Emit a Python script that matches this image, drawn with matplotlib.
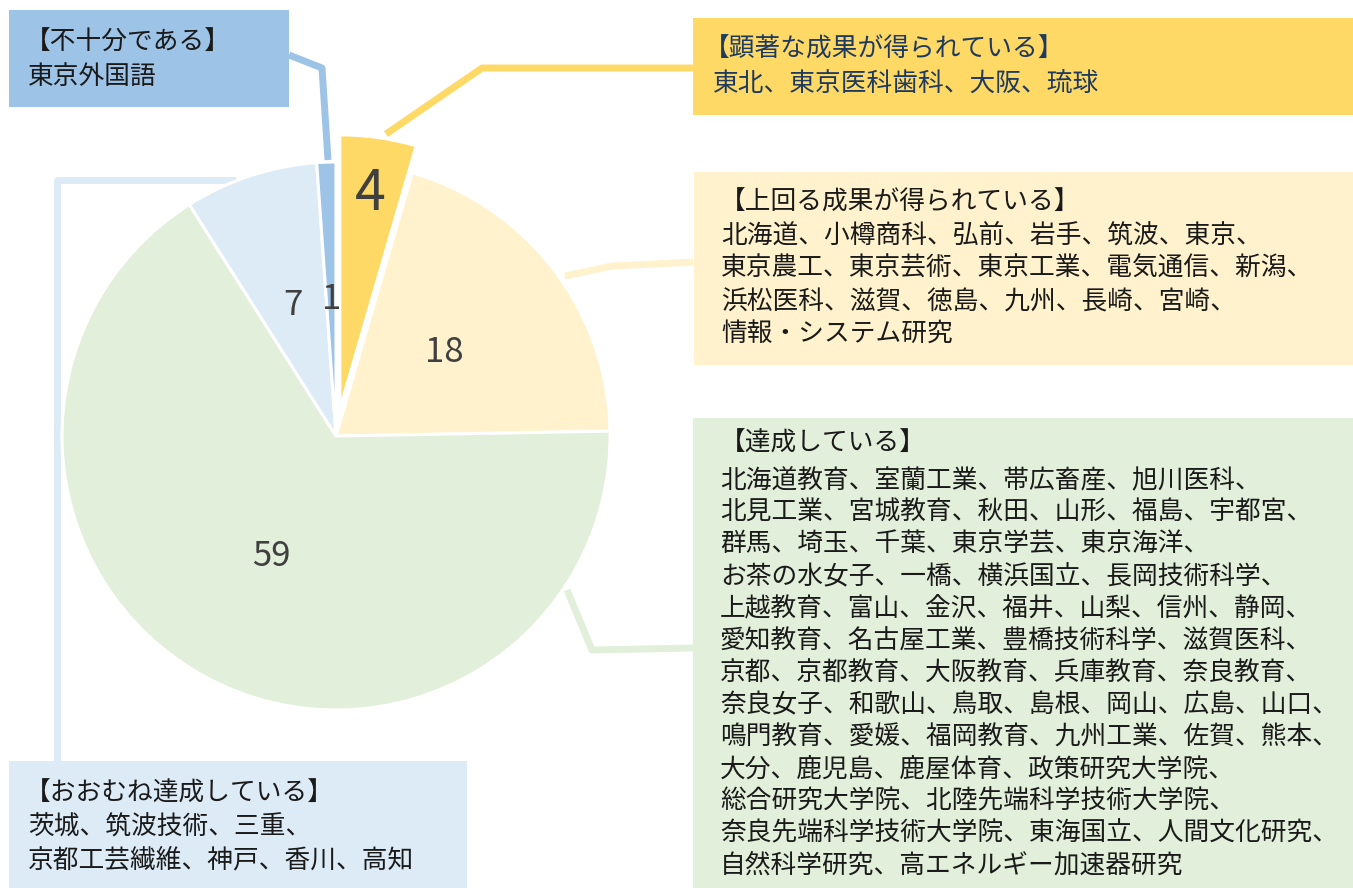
import matplotlib
matplotlib.use('Agg')
import matplotlib.pyplot as plt
from matplotlib.patches import Rectangle
import numpy as np

plt.rcParams['font.family'] = ['Noto Sans CJK JP', 'DejaVu Sans']

# データ（時計回り、上から）
categories = ['顕著な成果が得られている', '上回る成果が得られている', '達成している',
              'おおむね達成している', '不十分である']
values = [4, 18, 59, 7, 1]
colors = ['#FFD966', '#FFF2CC', '#E2EFDA', '#DDEBF7', '#9DC3E6']

members_kencho = ['東北、東京医科歯科、大阪、琉球']
members_uwamawaru = ['北海道、小樽商科、弘前、岩手、筑波、東京、',
                     '東京農工、東京芸術、東京工業、電気通信、新潟、',
                     '浜松医科、滋賀、徳島、九州、長崎、宮崎、',
                     '情報・システム研究']
members_tassei = ['北海道教育、室蘭工業、帯広畜産、旭川医科、',
                  '北見工業、宮城教育、秋田、山形、福島、宇都宮、',
                  '群馬、埼玉、千葉、東京学芸、東京海洋、',
                  'お茶の水女子、一橋、横浜国立、長岡技術科学、',
                  '上越教育、富山、金沢、福井、山梨、信州、静岡、',
                  '愛知教育、名古屋工業、豊橋技術科学、滋賀医科、',
                  '京都、京都教育、大阪教育、兵庫教育、奈良教育、',
                  '奈良女子、和歌山、鳥取、島根、岡山、広島、山口、',
                  '鳴門教育、愛媛、福岡教育、九州工業、佐賀、熊本、',
                  '大分、鹿児島、鹿屋体育、政策研究大学院、',
                  '総合研究大学院、北陸先端科学技術大学院、',
                  '奈良先端科学技術大学院、東海国立、人間文化研究、',
                  '自然科学研究、高エネルギー加速器研究']
members_oomune = ['茨城、筑波技術、三重、', '京都工芸繊維、神戸、香川、高知']
members_fujubun = ['東京外国語']

fig = plt.figure(figsize=(13.53, 8.88), dpi=100)
ax = fig.add_axes([0, 0, 1, 1])

R = 274
total = sum(values)
wedges, texts, autotexts = ax.pie(
    values, colors=colors, startangle=-90, counterclock=True,
    explode=[0.1 * R, 0, 0, 0, 0], center=(336, 436), radius=R,
    autopct=lambda p: f'{round(p * total / 100)}', pctdistance=0.5,
    wedgeprops=dict(edgecolor='white', linewidth=2.2),
    textprops=dict(fontsize=25, color='#404040'))

# 「4」は大きく外側寄り
w0 = wedges[0]
mid = np.deg2rad((w0.theta1 + w0.theta2) / 2)
cx, cy = w0.center
autotexts[0].set_position((cx + 0.79 * w0.r * np.cos(mid), cy + 0.79 * w0.r * np.sin(mid)))
autotexts[0].set_fontsize(40)

ax.set_xlim(0, 1353)
ax.set_ylim(888, 0)
ax.set_aspect('auto')
ax.axis('off')

# 引き出し線
lw = 5
ax.plot([386, 482, 693], [134, 68, 68], color=colors[0], lw=lw, solid_capstyle='butt', zorder=0)
ax.plot([565, 612, 693], [276, 266, 262], color=colors[1], lw=lw, solid_capstyle='butt', zorder=0)
ax.plot([567, 592, 693], [590, 650, 648], color=colors[2], lw=lw, solid_capstyle='butt', zorder=0)
ax.plot([57, 57, 236], [762, 180, 180], color=colors[3], lw=lw, solid_capstyle='butt', zorder=0)
ax.plot([289, 322, 328], [55, 68, 160], color=colors[4], lw=lw, solid_capstyle='butt', zorder=0)


def box(x0, y0, x1, y1, color, title, lines, ys, tdx, ldx, tcolor='#1a1a1a'):
    ax.add_patch(Rectangle((x0, y0), x1 - x0, y1 - y0, facecolor=color,
                           edgecolor='none', zorder=1))
    ax.text(x0 + tdx, ys[0], f'【{title}】', fontsize=18.5, color=tcolor,
            va='center', ha='left', zorder=2)
    for line, y in zip(lines, ys[1:]):
        ax.text(x0 + ldx, y, line, fontsize=18.5, color=tcolor,
                va='center', ha='left', zorder=2)


box(693, 18, 1353, 115, colors[0], categories[0], members_kencho, [50, 84], 11, 20,
    tcolor='#1F3A5F')
box(694, 172, 1353, 365, colors[1], categories[1], members_uwamawaru,
    [203, 236, 269, 302, 334], 26, 27)
box(693, 418, 1353, 888, colors[2], categories[2], members_tassei,
    [444] + [481 + 32.05 * i for i in range(len(members_tassei))], 27, 27)
box(9, 761, 467, 888, colors[3], categories[3], members_oomune, [794, 828, 860], 16, 19)
box(9, 10, 289, 107, colors[4], categories[4], members_fujubun, [43, 77], 16, 19)

fig.savefig('out.png', dpi=100)
